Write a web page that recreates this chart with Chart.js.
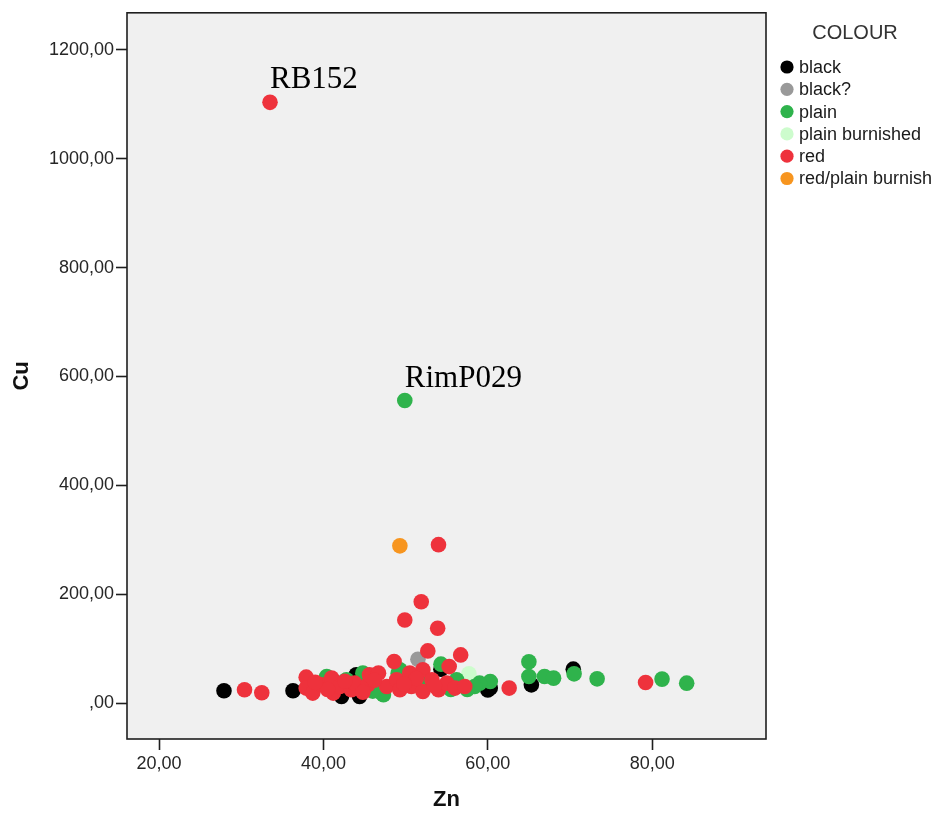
<!DOCTYPE html>
<html>
<head>
<meta charset="utf-8">
<title>Cu vs Zn by colour</title>
<script src="https://cdn.jsdelivr.net/npm/chart.js@4/dist/chart.umd.min.js"></script>
<style>
  html, body { margin: 0; padding: 0; background: #ffffff; }
  canvas { display: block; }
</style>
</head>
<body>
<canvas id="scatter" width="939" height="817"></canvas>
<script>
// Colour groups, in key order
const colourLabels = ['black', 'black?', 'plain', 'plain burnished', 'red', 'red/plain burnish'];
const colourFills  = ['#000000', '#999999', '#2fb34c', '#cdfccd', '#ee323c', '#f7951f'];

// Zn / Cu readings per colour group
const blackZn = [27.9, 36.3, 42.2, 44.4, 44.0, 54.3, 60.0, 60.3, 65.3, 70.4];
const blackCu = [22.6, 22.6, 12.0, 12.0, 52.0, 62.0, 24.0, 27.5, 33.5, 62.3];

const blackQZn = [51.5];
const blackQCu = [80.6];

const plainZn = [49.9, 54.3, 65.0, 65.0, 66.9, 68.0, 70.5, 73.3, 81.2, 84.2, 60.3, 59.0, 58.4, 56.2,
                 40.4, 42.8, 44.8, 47.1, 49.3, 49.1, 47.3, 46.0, 52.5, 55.5, 57.5, 44.0, 41.5];
const plainCu = [555.7, 71.5, 76.0, 48.7, 48.7, 45.8, 53.7, 44.5, 44.0, 36.6, 39.6, 36.6, 30.4, 42.7,
                 48.7, 42.7, 55.0, 18.3, 61.0, 55.0, 15.2, 22.0, 40.0, 25.0, 25.0, 35.0, 38.0];

const burnishedZn = [57.7];
const burnishedCu = [53.7];

const redZn = [33.5, 54.0, 51.9, 49.9, 53.9, 52.7, 48.6, 56.7, 55.3, 62.6, 79.2, 30.4, 32.5,
               37.9, 37.9, 38.7, 39.8, 41.0, 41.2, 42.0, 43.4, 43.8, 45.4, 45.6, 46.7, 47.7, 48.9,
               49.3, 50.5, 50.7, 52.1, 52.1, 53.2, 54.0, 55.0, 56.0, 57.2,
               40.5, 44.8, 46.2, 51.3, 53.5, 49.8, 42.6, 39.0];
const redCu = [1103.5, 291.0, 186.0, 152.6, 137.4, 95.8, 76.2, 88.5, 67.0, 27.5, 37.7, 24.4, 19.0,
               47.6, 27.5, 18.3, 33.5, 45.8, 18.3, 30.4, 24.4, 36.6, 33.5, 51.8, 55.0, 30.4, 42.7,
               24.4, 55.0, 30.4, 61.0, 21.3, 42.7, 24.4, 36.6, 27.5, 30.4,
               25.0, 20.0, 42.0, 45.0, 32.0, 35.0, 40.0, 38.0];

const orangeZn = [49.3];
const orangeCu = [288.8];

// Named samples written next to their points
const sampleNames  = ['RB152', 'RimP029'];
const sampleGroups = ['red', 'plain'];
const sampleIndex  = [0, 0];

// Axis ticks and ranges
const znTicks = [20, 40, 60, 80];
const cuTicks = [0, 200, 400, 600, 800, 1000, 1200];
const znRange = [16.1, 93.85];
const cuRange = [-66, 1268];

const groupZn = [blackZn, blackQZn, plainZn, burnishedZn, redZn, orangeZn];
const groupCu = [blackCu, blackQCu, plainCu, burnishedCu, redCu, orangeCu];
// stacking: red drawn last, black first
const drawOrder = [5, 4, 2, 3, 0, 1];

const SANS = '"Liberation Sans", Arial, Helvetica, sans-serif';
const SERIF = '"Liberation Serif", "Times New Roman", serif';

function pairUp(xs, ys) {
  return xs.map((x, i) => ({ x: x, y: ys[i] }));
}

function commaFixed(v) {
  if (v === 0) return ',00';
  return v.toFixed(2).replace('.', ',');
}

const datasets = colourLabels.map((label, i) => ({
  label: label,
  data: pairUp(groupZn[i], groupCu[i]),
  backgroundColor: colourFills[i],
  borderWidth: 0,
  pointRadius: 7.8,
  pointHoverRadius: 7.8,
  order: drawOrder[i]
}));

// grey panel behind the points
const panelPlugin = {
  id: 'panel',
  beforeDatasetsDraw(chart) {
    const a = chart.chartArea, ctx = chart.ctx;
    ctx.save();
    ctx.fillStyle = '#f0f0f0';
    ctx.fillRect(a.left, a.top, a.right - a.left, a.bottom - a.top);
    ctx.restore();
  },
  afterDraw(chart) {
    const a = chart.chartArea, ctx = chart.ctx;
    ctx.save();
    ctx.strokeStyle = '#1e1e1e';
    ctx.lineWidth = 1.6;
    ctx.strokeRect(a.left, a.top, a.right - a.left, a.bottom - a.top);
    ctx.restore();
  }
};

// sample names above their points
const sampleLabelPlugin = {
  id: 'sampleLabels',
  afterDatasetsDraw(chart) {
    const ctx = chart.ctx;
    const xs = chart.scales.x, ys = chart.scales.y;
    ctx.save();
    ctx.font = '31px ' + SERIF;
    ctx.fillStyle = '#000000';
    ctx.textAlign = 'left';
    ctx.textBaseline = 'alphabetic';
    sampleNames.forEach((name, k) => {
      const g = colourLabels.indexOf(sampleGroups[k]);
      const p = chart.data.datasets[g].data[sampleIndex[k]];
      const px = xs.getPixelForValue(p.x);
      const py = ys.getPixelForValue(p.y);
      ctx.fillText(name, px, py - 14);
    });
    ctx.restore();
  }
};

// colour key at the right of the panel
const keyPlugin = {
  id: 'colourKey',
  afterDraw(chart) {
    const ctx = chart.ctx;
    const a = chart.chartArea;
    const dotX = a.right + 21;
    const textX = a.right + 33;
    const firstY = 67;
    const step = 22.3;
    ctx.save();
    ctx.font = '20px ' + SANS;
    ctx.fillStyle = '#333333';
    ctx.textAlign = 'center';
    ctx.textBaseline = 'middle';
    ctx.fillText('COLOUR', a.right + 89, 33);
    ctx.font = '18px ' + SANS;
    ctx.textAlign = 'left';
    chart.data.datasets.forEach((ds, i) => {
      const y = firstY + i * step;
      ctx.beginPath();
      ctx.arc(dotX, y, 6.6, 0, Math.PI * 2);
      ctx.fillStyle = ds.backgroundColor;
      ctx.fill();
      ctx.fillStyle = '#1a1a1a';
      ctx.fillText(ds.label, textX, y + 1);
    });
    ctx.restore();
  }
};

const tickFont = { family: SANS, size: 18 };
const titleFont = { family: SANS, size: 22, weight: 'bold' };

new Chart(document.getElementById('scatter'), {
  type: 'scatter',
  data: { datasets: datasets },
  options: {
    responsive: false,
    animation: false,
    events: [],
    layout: { padding: { left: 0, top: 11, right: 173, bottom: 0 } },
    plugins: {
      legend: { display: false },
      tooltip: { enabled: false }
    },
    scales: {
      x: {
        type: 'linear',
        min: znRange[0],
        max: znRange[1],
        afterBuildTicks(scale) { scale.ticks = znTicks.map(v => ({ value: v })); },
        afterFit(scale) { scale.height = 78; },
        grid: { drawOnChartArea: false, drawTicks: true, tickLength: 11, tickColor: '#1e1e1e', tickWidth: 1.6 },
        border: { display: false },
        ticks: { font: tickFont, color: '#262626', padding: 3, maxRotation: 0, autoSkip: false, callback: v => commaFixed(v) },
        title: { display: true, text: 'Zn', font: titleFont, color: '#111111', padding: { top: 0, bottom: 4 } }
      },
      y: {
        type: 'linear',
        min: cuRange[0],
        max: cuRange[1],
        afterBuildTicks(scale) { scale.ticks = cuTicks.map(v => ({ value: v })); },
        afterFit(scale) { scale.width = 127; },
        grid: { drawOnChartArea: false, drawTicks: true, tickLength: 11, tickColor: '#1e1e1e', tickWidth: 1.6 },
        border: { display: false },
        ticks: { font: tickFont, color: '#262626', padding: 2, autoSkip: false, callback: v => commaFixed(v) },
        title: { display: true, text: 'Cu', font: titleFont, color: '#111111', padding: { top: 9, bottom: 0 } }
      }
    }
  },
  plugins: [panelPlugin, sampleLabelPlugin, keyPlugin]
});
</script>
</body>
</html>
